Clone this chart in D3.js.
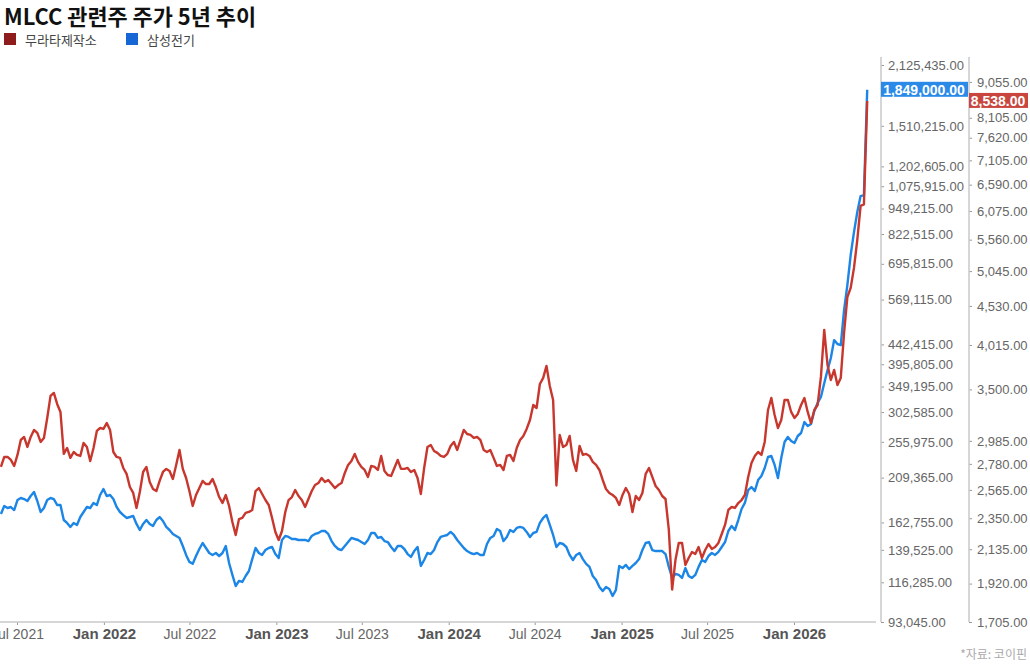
<!DOCTYPE html>
<html>
<head>
<meta charset="utf-8">
<script src="https://cdn.jsdelivr.net/npm/d3@7"></script>
<style>
  body { margin: 0; background: #fff; }
  svg { display: block; font-family: "Liberation Sans", Arial, "Noto Sans CJK KR", sans-serif; }
  .title { font-family: "Liberation Sans Narrow", "Noto Sans CJK KR", sans-serif; font-weight: 700; font-size: 22px; fill: #111; }
  .legend text { font-family: "Noto Sans CJK KR", sans-serif; font-size: 13px; fill: #444; }
  .axis text { font-size: 13px; fill: #666; }
  .axis line { stroke: #999; }
  .source { font-family: "Noto Sans CJK KR", sans-serif; font-size: 12px; fill: #aaa; }
</style>
</head>
<body>
<div class="mlcc_chart"></div>
<script>
// weekly closes (Fridays)
const dates = [
  // 2021
  '2021-05-28','2021-06-04','2021-06-11','2021-06-18','2021-06-25','2021-07-02','2021-07-09','2021-07-16','2021-07-23','2021-07-30',
  '2021-08-06','2021-08-13','2021-08-20','2021-08-27','2021-09-03','2021-09-10','2021-09-17','2021-09-24','2021-10-01','2021-10-08',
  '2021-10-15','2021-10-22','2021-10-29','2021-11-05','2021-11-12','2021-11-19','2021-11-26','2021-12-03','2021-12-10','2021-12-17',
  '2021-12-24','2021-12-31',
  // 2022
  '2022-01-07','2022-01-14','2022-01-21','2022-01-28','2022-02-04','2022-02-11','2022-02-18','2022-02-25','2022-03-04','2022-03-11',
  '2022-03-18','2022-03-25','2022-04-01','2022-04-08','2022-04-15','2022-04-22','2022-04-29','2022-05-06','2022-05-13','2022-05-20',
  '2022-05-27','2022-06-03','2022-06-10','2022-06-17','2022-06-24','2022-07-01','2022-07-08','2022-07-15','2022-07-22','2022-07-29',
  '2022-08-05','2022-08-12','2022-08-19','2022-08-26','2022-09-02','2022-09-09','2022-09-16','2022-09-23','2022-09-30','2022-10-07',
  '2022-10-14','2022-10-21','2022-10-28','2022-11-04','2022-11-11','2022-11-18','2022-11-25','2022-12-02','2022-12-09','2022-12-16',
  '2022-12-23','2022-12-30',
  // 2023
  '2023-01-06','2023-01-13','2023-01-20','2023-01-27','2023-02-03','2023-02-10','2023-02-17','2023-02-24','2023-03-03','2023-03-10',
  '2023-03-17','2023-03-24','2023-03-31','2023-04-07','2023-04-14','2023-04-21','2023-04-28','2023-05-05','2023-05-12','2023-05-19',
  '2023-05-26','2023-06-02','2023-06-09','2023-06-16','2023-06-23','2023-06-30','2023-07-07','2023-07-14','2023-07-21','2023-07-28',
  '2023-08-04','2023-08-11','2023-08-18','2023-08-25','2023-09-01','2023-09-08','2023-09-15','2023-09-22','2023-09-29','2023-10-06',
  '2023-10-13','2023-10-20','2023-10-27','2023-11-03','2023-11-10','2023-11-17','2023-11-24','2023-12-01','2023-12-08','2023-12-15',
  '2023-12-22','2023-12-29',
  // 2024
  '2024-01-05','2024-01-12','2024-01-19','2024-01-26','2024-02-02','2024-02-09','2024-02-16','2024-02-23','2024-03-01','2024-03-08',
  '2024-03-15','2024-03-22','2024-03-29','2024-04-05','2024-04-12','2024-04-19','2024-04-26','2024-05-03','2024-05-10','2024-05-17',
  '2024-05-24','2024-05-31','2024-06-07','2024-06-14','2024-06-21','2024-06-28','2024-07-05','2024-07-12','2024-07-19','2024-07-26',
  '2024-08-02','2024-08-09','2024-08-16','2024-08-23','2024-08-30','2024-09-06','2024-09-13','2024-09-20','2024-09-27','2024-10-04',
  '2024-10-11','2024-10-18','2024-10-25','2024-11-01','2024-11-08','2024-11-15','2024-11-22','2024-11-29','2024-12-06','2024-12-13',
  '2024-12-20','2024-12-27',
  // 2025
  '2025-01-03','2025-01-10','2025-01-17','2025-01-24','2025-01-31','2025-02-07','2025-02-14','2025-02-21','2025-02-28','2025-03-07',
  '2025-03-14','2025-03-21','2025-03-28','2025-04-04','2025-04-11','2025-04-18','2025-04-25','2025-05-02','2025-05-09','2025-05-16',
  '2025-05-23','2025-05-30','2025-06-06','2025-06-13','2025-06-20','2025-06-27','2025-07-04','2025-07-11','2025-07-18','2025-07-25',
  '2025-08-01','2025-08-08','2025-08-15','2025-08-22','2025-08-29','2025-09-05','2025-09-12','2025-09-19','2025-09-26','2025-10-03',
  '2025-10-10','2025-10-17','2025-10-24','2025-10-31','2025-11-07','2025-11-14','2025-11-21','2025-11-28','2025-12-05','2025-12-12',
  '2025-12-19','2025-12-26',
  // 2026
  '2026-01-02','2026-01-09','2026-01-16','2026-01-23','2026-01-30','2026-02-06','2026-02-13','2026-02-20','2026-02-27','2026-03-06',
  '2026-03-13','2026-03-20','2026-03-27','2026-04-03','2026-04-10','2026-04-17','2026-04-24','2026-05-01','2026-05-08','2026-05-15',
  '2026-05-22','2026-05-29','2026-06-05'
];

// 무라타제작소 (엔, 오른쪽 축)
const murata = [
  2755,2840,2840,2814,2762,2858,2993,3021,2929,3021,3087,3059,2975,3012,3204,3430,3462,3346,3264,2867,
  2920,2832,2884,2858,2849,2966,2929,2805,2920,3078,3106,3097,
  3154,3087,2884,2840,2832,2745,2695,2588,2541,2426,2548,2711,2754,2629,2572,2556,2637,2711,2737,2720,
  2653,2771,2902,2737,2661,2556,2441,2525,2580,2637,2612,2612,2653,2588,2509,2463,2525,2441,2323,2231,
  2344,2352,2389,2396,2411,2556,2580,2533,2486,2448,2352,2252,
  2197,2259,2396,2486,2509,2564,2517,2486,2433,2494,2556,2604,2620,2661,2629,2645,2612,2580,2604,2620,
  2703,2771,2805,2867,2797,2754,2728,2670,2762,2754,2728,2849,2720,2686,2678,2745,2814,2737,2737,2745,
  2711,2728,2661,2533,2745,2929,2947,2893,2876,2849,2840,2867,
  2938,2975,2902,2993,3087,3049,3040,3012,3021,2993,2902,2884,2902,2832,2762,2771,2728,2849,2858,2805,
  2920,2993,3031,3097,3184,3335,3304,3559,3626,3763,3537,3387,2600,3040,2929,2947,3031,2814,2720,2938,
  2858,2867,2849,2797,2771,2728,2645,2572,2541,2525,2502,2448,
  2525,2580,2533,2396,2517,2486,2541,2695,2745,2670,2596,2564,2517,2494,2266,1885,2065,2177,2177,2034,
  2078,2117,2104,2150,2078,2130,2170,2137,2150,2177,2238,2302,2411,2433,2426,2463,2486,2525,2670,2788,
  2849,2884,2858,2975,3284,3408,3234,3106,3184,3387,3387,3264,
  3204,3244,3335,3408,3264,3154,3284,3335,3637,4206,3775,3603,3717,3548,3626,4168,4657,4790,5095,5556,
  6172,6200,8538
];

// 삼성전기 (원, 왼쪽 축)
const semco = [
  170700,178500,176500,177500,174500,184600,186700,185600,183600,188800,193100,183600,172600,176500,184600,186700,185600,179500,179500,165000,
  162300,158700,162300,160500,167800,172600,177500,176500,181600,179500,189900,196400,
  188800,189900,185600,177500,172600,169700,166900,167800,168800,161400,156000,161400,165000,161400,159600,165000,167800,164100,158700,156000,
  152600,150900,149200,142600,135600,130400,129000,134800,140200,145000,141000,137100,135600,137100,134800,137100,142600,129600,121200,113900,
  117200,116500,120500,123900,132500,141000,137100,135600,139400,141000,141800,136300,
  133300,147500,150900,150000,148300,148300,147500,147500,147500,146600,150900,152600,153400,155100,155100,152600,146600,142600,140200,139400,
  142600,145800,149200,148300,147500,145800,144200,147500,153400,153400,149200,150000,146600,145800,141800,138600,142600,142600,140200,136300,
  134100,138600,141800,127500,131800,137100,136300,139400,145800,150000,150900,151700,
  154300,151700,147500,144200,141000,138600,137100,136300,137100,135600,135600,144200,149200,150900,156900,155100,146600,150000,156000,154300,
  157800,158700,157800,154300,150000,153400,154300,162300,166900,169700,160500,151700,141800,145000,144200,141800,135600,131800,135600,137100,
  132500,129000,126800,120500,117800,113300,110700,113300,112000,107700,111400,127500,
  126000,128200,125300,127500,129600,132500,139400,145000,145800,139400,138600,138600,138600,136300,126800,119200,121900,121200,119200,126000,
  120500,119200,121200,126800,131800,130400,134800,137100,135600,137900,141800,145800,155100,159600,156000,165000,175500,181600,195200,198600,
  194200,206500,211300,221000,235100,236400,224800,208900,233700,255700,263000,257100,
  254300,264500,269000,286100,279800,283100,304300,318300,329300,355800,383000,409800,453300,443400,440900,536500,617600,730900,831600,930500,
  1017800,1023000,1849000
];

const seriesNames = ['무라타제작소', '삼성전기'];
const leftTicks = [93045, 116285, 139525, 162755, 209365, 255975, 302585, 349195, 395805, 442415,
                   569115, 695815, 822515, 949215, 1075915, 1202605, 1510215, 2125435];
const rightTicks = [1705, 1920, 2135, 2350, 2565, 2780, 2985, 3500, 4015, 4530,
                    5045, 5560, 6075, 6590, 7105, 7620, 8105, 9055];
const xTicks = ['2021-07-01', '2022-01-01', '2022-07-01', '2023-01-01', '2023-07-01',
                '2024-01-01', '2024-07-01', '2025-01-01', '2025-07-01', '2026-01-01'];

const width = 1030;
const height = 665;
const colors = { murata: '#c8372d', semco: '#1c86e6' };

const parse = d3.timeParse('%Y-%m-%d');
const murataData = dates.map((d, i) => ({ date: parse(d), value: murata[i] }));
const semcoData = dates.map((d, i) => ({ date: parse(d), value: semco[i] }));

const svg = d3.select('.mlcc_chart').append('svg')
              .attr('width', width)
              .attr('height', height);

// title + legend
svg.append('text')
   .classed('title', true)
   .attr('x', 4)
   .attr('y', 25)
   .attr('textLength', 252)
   .attr('lengthAdjust', 'spacingAndGlyphs')
   .text('MLCC 관련주 주가 5년 추이');

const legend = svg.append('g').classed('legend', true);
const legendItems = [
  { name: seriesNames[0], color: '#8e1c1c', x: 4 },
  { name: seriesNames[1], color: '#1766d6', x: 126 }
];
legendItems.forEach(l => {
  legend.append('rect')
        .attr('x', l.x).attr('y', 33)
        .attr('width', 12).attr('height', 12)
        .attr('fill', l.color);
  legend.append('text')
        .attr('x', l.x + 21).attr('y', 45)
        .text(l.name);
});

// scales
const xScale = d3.scaleTime()
                 .domain([parse('2021-07-01'), parse('2026-01-01')])
                 .range([17, 794]);
const yLeft = d3.scaleLog().domain([93045, 2125435]).range([622, 65]);
const yRight = d3.scaleLog().domain([1705, 9541]).range([622, 65]);

// x axis
const xAxis = d3.axisBottom(xScale)
                .tickValues(xTicks.map(parse))
                .tickSize(3)
                .tickFormat(d3.timeFormat('%b %Y'));
const xAxis_group = svg.append('g')
                       .classed('axis', true)
                       .attr('transform', 'translate(0,622)')
                       .call(xAxis);
xAxis_group.select('.domain').remove();
xAxis_group.selectAll('.tick text')
           .attr('y', 17).attr('dy', 0)
           .style('font-size', d => d.getMonth() === 0 ? '15px' : '14px')
           .style('font-weight', d => d.getMonth() === 0 ? 700 : 400)
           .style('fill', d => d.getMonth() === 0 ? '#555' : '#666');
svg.append('line')
   .attr('x1', 0).attr('x2', 876)
   .attr('y1', 622).attr('y2', 622)
   .attr('stroke', '#c8c8c8').attr('stroke-width', 1.5);

// y axes (both on the right side)
const fmt = d3.format(',.2f');
svg.append('g')
   .classed('axis', true)
   .attr('transform', 'translate(881,0)')
   .call(d3.axisRight(yLeft).tickValues(leftTicks).tickSize(3).tickPadding(4).tickFormat(fmt));
svg.append('g')
   .classed('axis', true)
   .attr('transform', 'translate(969,0)')
   .call(d3.axisRight(yRight).tickValues(rightTicks).tickSize(3).tickPadding(5).tickFormat(fmt));
svg.selectAll('.axis .domain').remove();
[881, 969].forEach(xp => {
  svg.append('line')
     .attr('x1', xp).attr('x2', xp)
     .attr('y1', 57).attr('y2', 622)
     .attr('stroke', '#c8c8c8').attr('stroke-width', 1.5);
});

// lines
const lineLeft = d3.line().x(d => xScale(d.date)).y(d => yLeft(d.value));
const lineRight = d3.line().x(d => xScale(d.date)).y(d => yRight(d.value));

svg.append('path')
   .datum(semcoData)
   .attr('d', lineLeft)
   .attr('fill', 'none')
   .attr('stroke', colors.semco)
   .attr('stroke-width', 2.4)
   .attr('stroke-linejoin', 'round');

svg.append('path')
   .datum(murataData)
   .attr('d', lineRight)
   .attr('fill', 'none')
   .attr('stroke', colors.murata)
   .attr('stroke-width', 2.4)
   .attr('stroke-linejoin', 'round');

// last value labels
const lastSemco = semcoData[semcoData.length - 1].value;
const lastMurata = murataData[murataData.length - 1].value;

svg.append('rect')
   .attr('x', 881).attr('y', yLeft(lastSemco) - 8)
   .attr('width', 87).attr('height', 15)
   .attr('fill', '#2b8ae8');
svg.append('text')
   .attr('x', 924).attr('y', yLeft(lastSemco) + 5)
   .attr('text-anchor', 'middle')
   .style('font-size', '14px').style('font-weight', 700)
   .attr('fill', '#fff')
   .text(fmt(lastSemco));

svg.append('rect')
   .attr('x', 969).attr('y', yRight(lastMurata) - 8)
   .attr('width', 59).attr('height', 15)
   .attr('fill', '#c9463e');
svg.append('text')
   .attr('x', 998).attr('y', yRight(lastMurata) + 5)
   .attr('text-anchor', 'middle')
   .style('font-size', '14px').style('font-weight', 700)
   .attr('fill', '#fff')
   .text(fmt(lastMurata));

// source
svg.append('text')
   .classed('source', true)
   .attr('x', 1027).attr('y', 659)
   .attr('text-anchor', 'end')
   .text('*자료: 코이핀');
</script>
</body>
</html>
